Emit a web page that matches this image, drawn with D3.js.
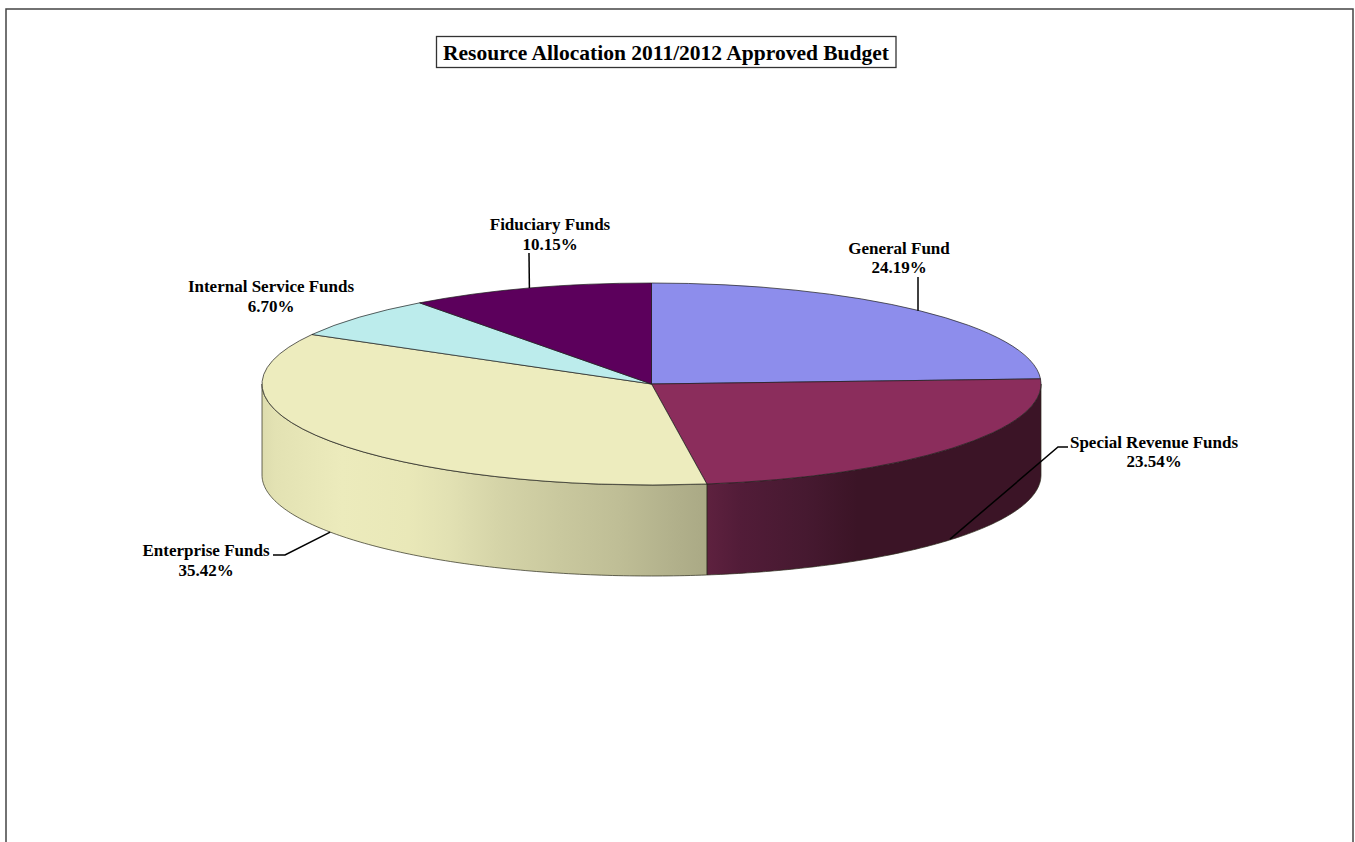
<!DOCTYPE html>
<html>
<head>
<meta charset="utf-8">
<script src="https://cdn.jsdelivr.net/npm/d3@7"></script>
<style>
  html, body { margin: 0; padding: 0; background: #fff; overflow: hidden; }
  text { font-family: "Liberation Serif", "Times New Roman", serif; font-weight: bold; fill: #000; }
</style>
</head>
<body>
<svg id="chart" width="1355" height="842"></svg>
<script>
// Budget shares by fund, clockwise from twelve o'clock
const funds = ["General Fund", "Special Revenue Funds", "Enterprise Funds", "Internal Service Funds", "Fiduciary Funds"];
const shares = [24.19, 23.54, 35.42, 6.70, 10.15];
const topColors = ["#8d8dec", "#8b2d5c", "#edecbe", "#bcecec", "#5c005c"];
const chartTitle = "Resource Allocation 2011/2012 Approved Budget";

// Shading across the visible rim, left to right
const rimStops = {
  "Special Revenue Funds": [[0, "#5e213f"], [0.1, "#521c38"], [0.3, "#461930"], [0.45, "#3b1426"], [1, "#3b1426"]],
  "Enterprise Funds": [[0, "#dddcae"], [0.03, "#e3e2b3"], [0.18, "#ecebbc"], [0.33, "#e9e8b8"], [0.42, "#e2e1b3"], [0.53, "#d5d4a8"], [0.67, "#c9c89e"], [0.8, "#bfbe96"], [0.94, "#b0af8a"], [1, "#aaa985"]]
};

// Label placement: text centre, first baseline, line gap, and leader polyline after the rim anchor
const labelLayout = {
  "General Fund": { x: 899, y: 254, gap: 19, leader: [[918, 277]], rimX: 918 },
  "Special Revenue Funds": { x: 1154, y: 448, gap: 19, leader: [[1058, 447], [1068, 447]], rimX: 950 },
  "Enterprise Funds": { x: 206, y: 556, gap: 20, leader: [[285, 555], [273, 555]] },
  "Internal Service Funds": { x: 271, y: 292, gap: 20 },
  "Fiduciary Funds": { x: 550, y: 230, gap: 20, leader: [[529, 253]] }
};

const width = 1355, height = 842;
const centre = { x: 651.5, y: 384 };
const radiusX = 389.5, radiusY = 101, rimDepth = 91;

const svg = d3.select("#chart");
const defs = svg.append("defs");

// Page frame, open at the bottom
svg.append("path")
  .attr("d", d3.line()([[6, height], [6, 9], [1353, 9], [1353, height]]))
  .attr("fill", "none").attr("stroke", "#444").attr("stroke-width", 1.5);

// Title box
svg.append("rect")
  .attr("x", 436.5).attr("y", 36.5).attr("width", 459.5).attr("height", 31)
  .attr("fill", "#fff").attr("stroke", "#333").attr("stroke-width", 1.3);
svg.append("text")
  .attr("x", 666).attr("y", 60).attr("text-anchor", "middle")
  .attr("font-size", 21.5).text(chartTitle);

const pie = d3.pie().sort(null).value(d => d.share);
const arcs = pie(funds.map((name, i) => ({ name, share: shares[i], color: topColors[i] })));

// Ellipse projection of a pie angle
const ellipseX = d3.scaleLinear().domain([-1, 1]).range([centre.x - radiusX, centre.x + radiusX]);
const ellipseY = d3.scaleLinear().domain([-1, 1]).range([centre.y + radiusY, centre.y - radiusY]);
const onEllipse = (angle, drop = 0) => [ellipseX(Math.sin(angle)), ellipseY(Math.cos(angle)) + drop];

// Rim walls: only the front half of the disc is visible
const frontStart = Math.PI / 2, frontEnd = 3 * Math.PI / 2;
arcs.forEach((a, i) => {
  const from = Math.max(a.startAngle, frontStart);
  const to = Math.min(a.endAngle, frontEnd);
  if (to <= from) return;
  const id = "rim" + i;
  const xs = [onEllipse(from)[0], onEllipse(to)[0]];
  const grad = defs.append("linearGradient").attr("id", id)
    .attr("gradientUnits", "userSpaceOnUse")
    .attr("x1", d3.min(xs)).attr("x2", d3.max(xs)).attr("y1", 0).attr("y2", 0);
  (rimStops[a.data.name] || []).forEach(([offset, color]) =>
    grad.append("stop").attr("offset", offset).attr("stop-color", color));
  const steps = d3.range(0, 121).map(k => from + (to - from) * k / 120);
  const outline = steps.map(t => onEllipse(t)).concat(steps.slice().reverse().map(t => onEllipse(t, rimDepth)));
  svg.append("path")
    .attr("d", d3.line()(outline) + "Z")
    .attr("fill", `url(#${id})`).attr("stroke", "#2a2a1a").attr("stroke-width", 0.7);
});

// Top face: circular arcs squashed into the ellipse
const arc = d3.arc().innerRadius(0).outerRadius(radiusX);
svg.append("g")
  .attr("transform", `translate(${centre.x},${centre.y}) scale(1,${radiusY / radiusX})`)
  .selectAll("path").data(arcs).join("path")
  .attr("d", arc)
  .attr("fill", d => d.data.color)
  .attr("stroke", "#1c1c1c").attr("stroke-width", 0.7)
  .attr("vector-effect", "non-scaling-stroke");

// Leader lines and two-line labels
arcs.forEach(a => {
  const layout = labelLayout[a.data.name];
  const mid = (a.startAngle + a.endAngle) / 2;
  const front = mid > frontStart && mid < frontEnd;
  if (layout.leader) {
    const anchor = onEllipse(mid, front ? rimDepth : 0);
    if (layout.rimX) anchor[0] = layout.rimX;
    svg.append("path")
      .attr("d", d3.line()([anchor, ...layout.leader]))
      .attr("fill", "none").attr("stroke", "#000").attr("stroke-width", 1.5);
  }
  const label = svg.append("text").attr("text-anchor", "middle").attr("font-size", 17);
  label.append("tspan").attr("x", layout.x).attr("y", layout.y).text(a.data.name);
  label.append("tspan").attr("x", layout.x).attr("y", layout.y + layout.gap).text(a.data.share.toFixed(2) + "%");
});
</script>
</body>
</html>
